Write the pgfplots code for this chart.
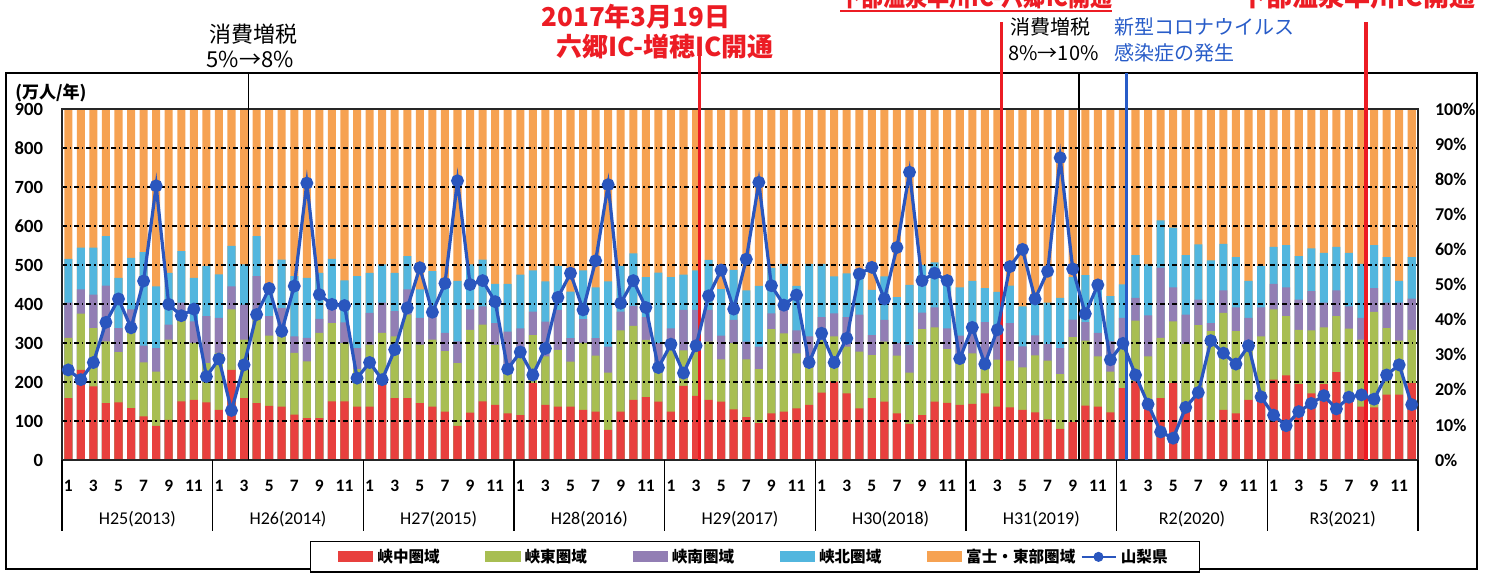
\documentclass[border=0pt]{standalone}
\usepackage{pgfplots}
\pgfplotsset{compat=1.18}
\usepackage{pgfplotstable}
\usepackage{fontspec}
\setmainfont{Carlito}
\newfontfamily\cjk{Noto Sans CJK JP}
\definecolor{cred}{RGB}{232,64,62}
\definecolor{cgreen}{RGB}{168,190,82}
\definecolor{cpurple}{RGB}{146,126,180}
\definecolor{ccyan}{RGB}{82,182,222}
\definecolor{corange}{RGB}{246,162,82}
\definecolor{lblue}{RGB}{42,86,190}
\definecolor{ared}{RGB}{236,28,36}
\definecolor{ablue}{RGB}{40,92,200}

% m: month index, v: total (10k persons), r,g,p,c,t: cumulative shares (%)
\pgfplotstableread{
m v r g p c t
1 231 17.6 34.8 44.8 57.3 100
2 206 25.7 41.7 48.6 60.5 100
3 250 21.0 37.6 47.1 60.5 100
4 353 16.2 33.8 49.7 63.8 100
5 413 16.4 30.7 37.6 51.9 100
6 339 14.8 36.7 42.9 57.6 100
7 459 12.4 27.8 32.6 59.2 100
8 703 9.7 25.2 31.9 49.5 100
9 399 11.4 34.3 38.6 53.3 100
10 370 16.7 41.4 44.8 59.5 100
11 387 17.1 33.3 39.5 51.9 100
12 214 16.4 27.6 41.0 55.2 100
13 259 14.3 30.5 40.5 52.9 100
14 127 25.7 42.9 49.5 61.0 100
15 244 17.6 34.3 44.3 55.7 100
16 373 16.2 41.9 52.4 63.8 100
17 440 15.4 35.4 41.0 49.5 100
18 330 15.2 35.7 43.3 57.1 100
19 446 12.9 30.5 35.2 52.4 100
20 710 11.9 28.1 34.8 51.9 100
21 424 11.9 36.2 40.2 53.3 100
22 399 16.7 39.0 43.8 57.3 100
23 396 16.7 33.3 39.2 51.2 100
24 210 15.2 25.9 31.9 52.4 100
25 250 15.2 32.9 41.9 53.3 100
26 206 21.9 36.2 44.8 55.7 100
27 283 17.6 35.2 42.4 53.3 100
28 390 17.6 41.4 48.6 58.1 100
29 493 16.2 32.9 40.5 48.6 100
30 379 15.2 34.3 41.0 53.8 100
31 453 13.8 31.0 36.2 51.4 100
32 716 9.7 27.6 33.8 51.0 100
33 450 13.5 37.1 42.9 55.7 100
34 460 16.7 38.6 43.8 57.1 100
35 406 15.7 32.8 39.0 50.2 100
36 233 13.3 26.6 36.6 50.2 100
37 277 12.8 31.8 37.5 52.8 100
38 218 21.9 35.6 42.3 54.0 100
39 286 15.7 29.5 39.4 50.9 100
40 417 15.2 31.4 42.8 55.3 100
41 479 15.2 28.0 34.7 48.0 100
42 385 14.3 33.3 40.1 54.0 100
43 511 13.8 29.7 34.7 49.2 100
44 706 8.6 24.9 32.3 50.9 100
45 402 13.8 36.9 42.3 55.3 100
46 460 17.1 38.2 43.9 58.9 100
47 391 17.9 34.2 40.7 52.1 100
48 237 16.6 26.6 33.3 53.4 100
49 297 13.8 34.2 37.5 52.1 100
50 223 21.1 31.2 42.8 52.8 100
51 293 18.3 33.3 42.8 54.0 100
52 421 17.1 33.7 42.8 57.0 100
53 487 16.6 28.7 35.4 48.7 100
54 387 14.4 33.3 39.9 54.2 100
55 515 12.2 28.7 33.7 48.3 100
56 712 10.5 25.9 32.3 49.6 100
57 447 13.3 37.3 41.8 54.7 100
58 397 13.8 36.1 42.8 55.9 100
59 423 14.7 30.4 36.9 49.6 100
60 250 15.7 26.6 35.2 55.9 100
61 325 19.2 34.2 40.7 55.9 100
62 250 22.3 35.2 41.8 52.3 100
63 312 19.0 32.3 40.7 53.2 100
64 477 14.7 30.9 41.4 53.4 100
65 494 17.6 29.9 35.6 48.5 100
66 413 16.6 33.7 39.9 52.3 100
67 545 13.3 29.7 33.3 46.4 100
68 738 10.3 24.9 32.8 49.9 100
69 460 12.8 37.3 42.0 55.6 100
70 479 16.6 37.8 43.5 56.3 100
71 460 16.3 31.6 37.5 52.3 100
72 260 15.7 28.7 35.4 49.2 100
73 340 16.0 30.4 37.4 51.0 100
74 246 19.0 27.1 39.3 49.0 100
75 334 15.2 28.6 36.7 47.9 100
76 496 15.0 28.3 39.0 49.7 100
77 540 14.3 26.4 32.4 43.8 100
78 413 13.6 29.8 35.5 47.1 100
79 484 11.6 28.3 33.0 44.8 100
80 775 8.9 24.5 31.9 46.2 100
81 490 10.8 35.0 40.0 52.1 100
82 375 15.5 34.0 39.3 52.7 100
83 449 15.2 29.5 36.2 51.0 100
84 257 13.6 25.2 33.8 46.7 100
85 299 20.5 34.3 40.5 50.0 100
86 218 22.4 39.7 46.2 58.4 100
87 143 16.2 29.5 41.2 55.7 100
88 72 17.6 34.8 54.8 68.3 100
89 56 21.9 39.5 49.2 66.2 100
90 135 15.5 33.0 41.4 58.4 100
91 173 18.1 38.4 45.7 61.4 100
92 306 11.0 36.7 39.0 56.9 100
93 274 14.3 41.9 48.3 61.6 100
94 246 13.3 36.7 43.5 57.8 100
95 293 17.1 32.4 40.5 51.0 100
96 162 17.1 35.2 43.5 55.2 100
97 115 22.9 42.9 50.2 60.7 100
98 88 24.1 41.0 49.2 61.2 100
99 124 21.6 37.1 45.7 58.1 100
100 145 19.0 36.9 48.1 60.3 100
101 165 21.6 37.8 44.8 59.0 100
102 131 25.0 41.0 48.3 60.7 100
103 161 18.1 37.4 43.8 59.0 100
104 167 15.2 34.3 40.5 55.9 100
105 156 15.0 42.2 49.0 61.2 100
106 218 18.6 37.6 44.8 57.8 100
107 244 18.6 34.0 44.8 51.0 100
108 142 21.9 37.1 46.0 57.8 100
}\data

\begin{document}
\begin{tikzpicture}
\path[use as bounding box] (0,0) rectangle (744pt,-288pt);
\begin{scope}[x=0.5pt,y=-0.5pt]
\draw[line width=0.7pt] (6,73) rectangle (1477,569);
\end{scope}

% ---- bars: 100% stacked shares (right axis)
\begin{axis}[at={(31pt,-230pt)}, anchor=south west, scale only axis,
  width=678pt, height=175.5pt,
  xmin=0, xmax=108, ymin=0, ymax=100,
  hide x axis, axis y line*=right, y axis line style={draw=none},
  ytick={0,10,...,100}, major tick length=0pt,
  /pgf/number format/assume math mode=true,
  yticklabel={\pgfmathprintnumber{\tick}\%},
  yticklabel style={font=\bfseries\fontsize{9}{10}\selectfont, xshift=5pt},
  ybar, bar width=0.64, bar shift=0pt]
\addplot[fill=corange, draw=none] table[x expr=\thisrow{m}-0.5, y=t] {\data};
\addplot[fill=ccyan, draw=none] table[x expr=\thisrow{m}-0.5, y=c] {\data};
\addplot[fill=cpurple, draw=none] table[x expr=\thisrow{m}-0.5, y=p] {\data};
\addplot[fill=cgreen, draw=none] table[x expr=\thisrow{m}-0.5, y=g] {\data};
\addplot[fill=cred, draw=none] table[x expr=\thisrow{m}-0.5, y=r] {\data};
\end{axis}

% ---- line: Yamanashi total (left axis)
\begin{axis}[at={(31pt,-230pt)}, anchor=south west, scale only axis,
  width=678pt, height=175.5pt,
  xmin=0, xmax=108, ymin=0, ymax=900, clip=false,
  /pgf/number format/assume math mode=true,
  axis line style={line width=0.6pt, black!85},
  ytick={0,100,...,900}, ymajorgrids,
  grid style={black, line width=0.6pt, dash pattern=on 2.5pt off 1.5pt on 0.6pt off 1.5pt},
  xtick={0.5,2.5,...,107.5},
  xticklabels={1,3,5,7,9,11,1,3,5,7,9,11,1,3,5,7,9,11,1,3,5,7,9,11,1,3,5,7,9,11,1,3,5,7,9,11,1,3,5,7,9,11,1,3,5,7,9,11,1,3,5,7,9,11},
  major tick length=0pt,
  yticklabel style={font=\bfseries\fontsize{9.3}{10}\selectfont, xshift=-6pt},
  xticklabel style={font=\bfseries\fontsize{8.7}{10}\selectfont, anchor=center, yshift=-13pt},
  legend columns=6,
  legend style={at={(0.511,-0.276)}, anchor=center, draw=black, line width=0.6pt,
    font=\cjk\bfseries\fontsize{7.8}{9}\selectfont, inner xsep=14pt, inner ysep=1.5pt,
    /tikz/every even column/.append style={column sep=0pt}},
]
\addlegendimage{legend image code/.code={\fill[cred] (0pt,-2.5pt) rectangle (17pt,2.5pt);}}
\addlegendimage{legend image code/.code={\fill[cgreen] (0pt,-2.5pt) rectangle (17pt,2.5pt);}}
\addlegendimage{legend image code/.code={\fill[cpurple] (0pt,-2.5pt) rectangle (17pt,2.5pt);}}
\addlegendimage{legend image code/.code={\fill[ccyan] (0pt,-2.5pt) rectangle (17pt,2.5pt);}}
\addlegendimage{legend image code/.code={\fill[corange] (0pt,-2.5pt) rectangle (17pt,2.5pt);}}
\addlegendimage{legend image code/.code={\draw[lblue,line width=1.3pt] (0pt,0pt) -- (17pt,0pt); \fill[lblue] (8.5pt,0pt) circle (2.2pt);}}
\legend{\makebox[52pt][l]{峡中圏域},\makebox[52pt][l]{峡東圏域},\makebox[52pt][l]{峡南圏域},\makebox[52pt][l]{峡北圏域},\makebox[55pt][l]{富士・東部圏域},山梨県}

% year separators and labels
\draw[line width=0.6pt] (axis cs:0,0) -- ++(0pt,-35.5pt);
\draw[line width=0.6pt] (axis cs:12,0) -- ++(0pt,-35.5pt);
\draw[line width=0.6pt] (axis cs:24,0) -- ++(0pt,-35.5pt);
\draw[line width=0.6pt] (axis cs:36,0) -- ++(0pt,-35.5pt);
\draw[line width=0.6pt] (axis cs:48,0) -- ++(0pt,-35.5pt);
\draw[line width=0.6pt] (axis cs:60,0) -- ++(0pt,-35.5pt);
\draw[line width=0.6pt] (axis cs:72,0) -- ++(0pt,-35.5pt);
\draw[line width=0.6pt] (axis cs:84,0) -- ++(0pt,-35.5pt);
\draw[line width=0.6pt] (axis cs:96,0) -- ++(0pt,-35.5pt);
\draw[line width=0.6pt] (axis cs:108,0) -- ++(0pt,-35.5pt);
\node[font=\fontsize{9}{10}\selectfont] at ([yshift=-29.5pt]axis cs:6,0) {H25(2013)};
\node[font=\fontsize{9}{10}\selectfont] at ([yshift=-29.5pt]axis cs:18,0) {H26(2014)};
\node[font=\fontsize{9}{10}\selectfont] at ([yshift=-29.5pt]axis cs:30,0) {H27(2015)};
\node[font=\fontsize{9}{10}\selectfont] at ([yshift=-29.5pt]axis cs:42,0) {H28(2016)};
\node[font=\fontsize{9}{10}\selectfont] at ([yshift=-29.5pt]axis cs:54,0) {H29(2017)};
\node[font=\fontsize{9}{10}\selectfont] at ([yshift=-29.5pt]axis cs:66,0) {H30(2018)};
\node[font=\fontsize{9}{10}\selectfont] at ([yshift=-29.5pt]axis cs:78,0) {H31(2019)};
\node[font=\fontsize{9}{10}\selectfont] at ([yshift=-29.5pt]axis cs:90,0) {R2(2020)};
\node[font=\fontsize{9}{10}\selectfont] at ([yshift=-29.5pt]axis cs:102,0) {R3(2021)};

% event lines
\draw[black, line width=0.8pt] (axis cs:14.85,0) -- ([yshift=17.5pt]axis cs:14.85,900);
\draw[black, line width=0.8pt] (axis cs:81,0) -- ([yshift=17.5pt]axis cs:81,900);
\draw[ared, line width=1.6pt] (axis cs:50.8,0) -- ([yshift=30.5pt]axis cs:50.8,900);
\draw[ared, line width=1.6pt] (axis cs:74.85,0) -- ([yshift=43.5pt]axis cs:74.85,900);
\draw[ablue, line width=1.6pt] (axis cs:84.8,0) -- ([yshift=18pt]axis cs:84.8,900);
\draw[ared, line width=1.6pt] (axis cs:103.85,0) -- ([yshift=43.5pt]axis cs:103.85,900);

\addplot[forget plot, color=lblue, line width=1.6pt, mark=*, mark size=2.4pt, mark options={fill=lblue}]
  table[x expr=\thisrow{m}-0.5, y=v] {\data};
\end{axis}

\begin{scope}[x=0.5pt,y=-0.5pt]
\node[font=\cjk\bfseries\fontsize{8.5}{10}\selectfont, anchor=west, inner sep=0pt] at (15,93) {(万人/年)};
\node[font=\cjk\fontsize{11}{12}\selectfont] at (253,34) {消費増税};
\node[font=\cjk\fontsize{11}{12}\selectfont] at (250,59) {5\%→8\%};
\node[font=\cjk\bfseries\fontsize{13}{14}\selectfont, text=ared] at (636,17) {2017年3月19日};
\node[font=\cjk\bfseries\fontsize{13}{14}\selectfont, text=ared] at (665,47) {六郷IC-増穂IC開通};
\node[font=\cjk\bfseries\fontsize{13}{14}\selectfont, text=ared, anchor=base, inner sep=0pt] at (976,7) {\scalebox{0.85}[1]{下部温泉早川IC-六郷IC開通}};
\draw[ared, line width=1pt] (840,11) -- (1112,11);
\node[font=\cjk\bfseries\fontsize{13}{14}\selectfont, text=ared, anchor=base, inner sep=0pt] at (1358,7) {下部温泉早川IC開通};
\node[font=\cjk\fontsize{10}{12}\selectfont, anchor=west, inner sep=0pt] at (1010,27) {消費増税};
\node[font=\cjk\fontsize{10}{12}\selectfont, anchor=west, inner sep=0pt] at (1008,53) {8\%→10\%};
\node[font=\cjk\fontsize{10}{12}\selectfont, anchor=west, inner sep=0pt, text=ablue] at (1114,27) {新型コロナウイルス};
\node[font=\cjk\fontsize{10}{12}\selectfont, anchor=west, inner sep=0pt, text=ablue] at (1114,53) {感染症の発生};
\end{scope}
\end{tikzpicture}
\end{document}
